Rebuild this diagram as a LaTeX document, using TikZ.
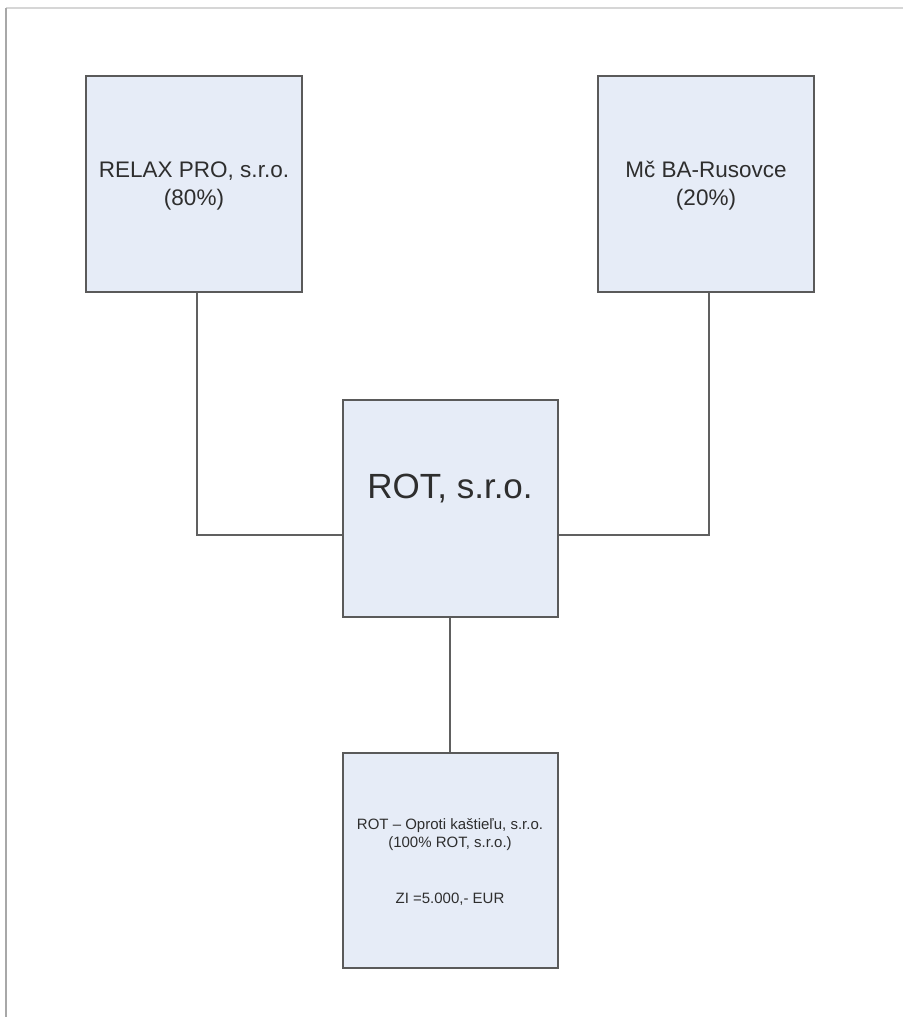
\documentclass[tikz,border=0pt]{standalone}
\usepackage{fontspec}
\setmainfont{Liberation Sans}
\definecolor{boxfill}{HTML}{E6ECF7}
\definecolor{boxline}{HTML}{5A5A5A}
\definecolor{connline}{HTML}{606060}
\definecolor{txt}{HTML}{2E2E2E}
\definecolor{frameA}{HTML}{D6D6D6}
\definecolor{frameB}{HTML}{A8A8A8}
\begin{document}
\begin{tikzpicture}[x=1pt,y=-1pt,
  orgbox/.style={draw=boxline, fill=boxfill, line width=1.5pt, rectangle, inner sep=0pt},
  conn/.style={draw=connline, line width=1.4pt},
  lbl/.style={text=txt, anchor=base, inner sep=0pt},
  big/.style={font=\fontsize{22.5}{28}\selectfont},
  huge/.style={font=\fontsize{35}{40}\selectfont},
  small/.style={font=\fontsize{15}{18}\selectfont}]
\useasboundingbox (0,0) rectangle (903,1017);
\fill[white] (0,0) rectangle (903,1017);
\draw[frameA, line width=1.2pt] (6,8) -- (903,8);
\draw[frameB, line width=1.2pt] (6,8) -- (6,1017);

\node[orgbox, minimum width=216pt, minimum height=216pt] (relax) at (194,184) {};
\node[orgbox, minimum width=216pt, minimum height=216pt] (mc) at (706,184) {};
\node[orgbox, minimum width=215pt, minimum height=217pt] (rot) at (450.5,508.5) {};
\node[orgbox, minimum width=215pt, minimum height=215pt] (sub) at (450.5,860.5) {};

\node[lbl, big] (t1a) at (194,177) {RELAX PRO, s.r.o.};
\node[lbl, big] (t1b) at (194,205) {(80\%)};
\node[lbl, big] (t2a) at (706,177) {Mč BA-Rusovce};
\node[lbl, big] (t2b) at (706,205) {(20\%)};
\node[lbl, huge] (t3) at (450,498) {ROT, s.r.o.};
\node[lbl, small] (t4a) at (450,829) {ROT – Oproti kaštieľu, s.r.o.};
\node[lbl, small] (t4b) at (450,847) {(100\% ROT, s.r.o.)};
\node[lbl, small] (t4c) at (450,903) {ZI =5.000,- EUR};

\coordinate (cl) at (197,535);
\coordinate (cr) at (709,535);
\coordinate (cb) at (450,700);
\draw[conn] (relax.south -| cl) -- (cl) -- (rot.west |- cl);
\draw[conn] (mc.south -| cr) -- (cr) -- (rot.east |- cr);
\draw[conn] (rot.south -| cb) -- (sub.north -| cb);
\end{tikzpicture}
\end{document}
